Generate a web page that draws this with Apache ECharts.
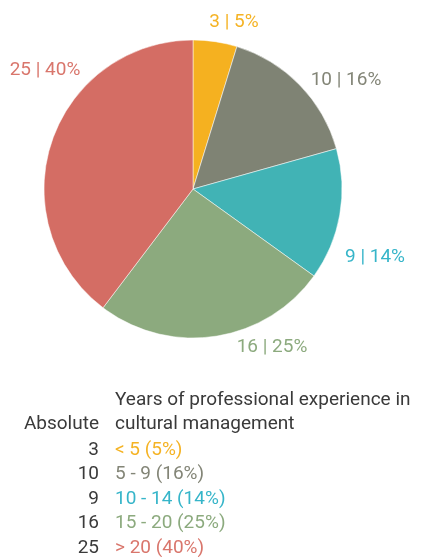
<!DOCTYPE html>
<html>
<head>
<meta charset="utf-8">
<script src="https://cdn.jsdelivr.net/npm/echarts@6/dist/echarts.min.js"></script>
<style>
  html, body { margin: 0; padding: 0; background: #fff; }
  #main { width: 422px; height: 557px; }
</style>
</head>
<body>
<div id="main"></div>
<script>
// data
var categories = ['< 5', '5 - 9', '10 - 14', '15 - 20', '> 20'];
var counts = [3, 10, 9, 16, 25];
var percents = [5, 16, 14, 25, 40];

// styles
var sliceColors = ['#F5B120', '#7F8374', '#41B3B5', '#8CAA7E', '#D46D64'];
var textColors = ['#F5B324', '#838577', '#36B5C9', '#8CAA7E', '#D9766C'];
// label centres (px), one per slice
var labelPos = [[234, 22], [346, 80], [375, 257], [272, 347], [45, 70]];

var font = 'Roboto, "DejaVu Sans", sans-serif';
var fs = 19;
var myChart = echarts.init(document.getElementById('main'));

var pieData = categories.map(function (c, i) {
	return {
		name: c,
		value: counts[i],
		itemStyle: { color: sliceColors[i] },
		label: { color: textColors[i] }
	};
});

var rich = {
	n: { width: 99, align: 'right', color: '#3a3a3a', fontSize: fs, fontFamily: font, lineHeight: 24 }
};
textColors.forEach(function (col, i) {
	rich['t' + i] = { color: col, align: 'right', fontSize: fs, fontFamily: font, lineHeight: 24, padding: [0, 0, 0, 16] };
});

var option = {
	animation: false,
	legend: {
		orient: 'vertical',
		left: -5,
		top: 438,
		height: 200,
		padding: 0,
		icon: 'none',
		itemWidth: 0,
		itemHeight: 24,
		itemGap: 0.5,
		selectedMode: false,
		data: categories,
		formatter: function (name) {
			var i = categories.indexOf(name);
			return '{n|' + counts[i] + '}{t' + i + '|' + name + ' (' + percents[i] + '%)}';
		},
		textStyle: { lineHeight: 24, rich: rich }
	},
	graphic: [
		{ type: 'text', x: 115, y: 400, style: { text: 'Years of professional experience in', fill: '#3a3a3a', font: fs + 'px ' + font, verticalAlign: 'middle' } },
		{ type: 'text', x: 115, y: 424, style: { text: 'cultural management', fill: '#3a3a3a', font: fs + 'px ' + font, verticalAlign: 'middle' } },
		{ type: 'text', x: 99, y: 424, style: { text: 'Absolute', fill: '#3a3a3a', font: fs + 'px ' + font, align: 'right', verticalAlign: 'middle' } }
	],
	series: [{
		type: 'pie',
		center: [193, 189],
		radius: 149,
		startAngle: 90,
		clockwise: true,
		data: pieData,
		itemStyle: { borderColor: '#fff', borderWidth: 0.5 },
		label: {
			show: true,
			fontSize: fs,
			fontFamily: font,
			overflow: 'none',
			formatter: function (p) {
				return counts[p.dataIndex] + ' | ' + percents[p.dataIndex] + '%';
			}
		},
		labelLine: { show: false },
		labelLayout: function (p) {
			var pos = labelPos[p.dataIndex];
			return { x: pos[0], y: pos[1], align: 'center', verticalAlign: 'middle' };
		}
	}]
};
myChart.setOption(option);
</script>
</body>
</html>
